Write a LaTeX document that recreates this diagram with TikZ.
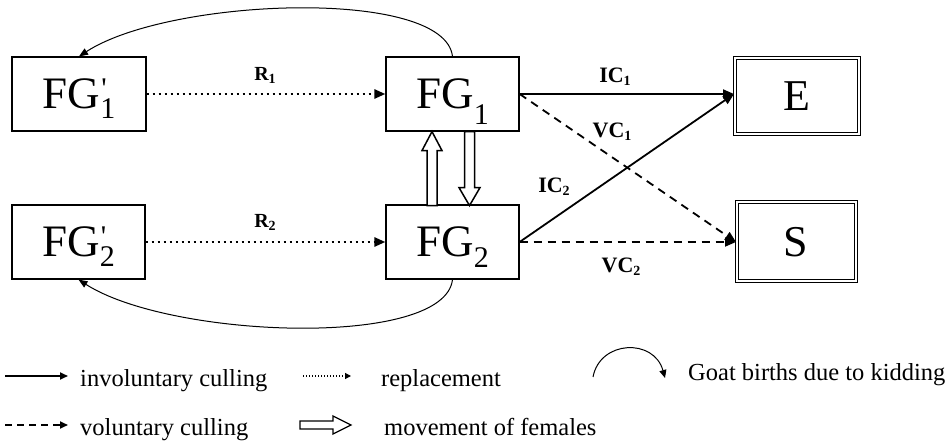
\documentclass[tikz,border=0pt]{standalone}
\usepackage{fontspec}
\setmainfont{Liberation Serif}
\newfontfamily\rawserif{Liberation Serif}
\usetikzlibrary{arrows.meta,calc}

\newcommand{\bigfs}{\fontsize{45}{45}\selectfont}
\newcommand{\subfs}{\fontsize{30}{30}\selectfont}
\newcommand{\FGprime}[1]{\bigfs FG\smash{\rlap{\raisebox{10pt}{\subfs\rawserif\kern1pt'}}\raisebox{-10pt}{\subfs #1}}}
\newcommand{\FGsub}[2]{\bigfs FG\smash{\raisebox{-#2}{\subfs #1}}}
\newcommand{\lab}[3]{{\fontsize{#3}{#3}\selectfont\bfseries #1\raisebox{-3pt}{\fontsize{14}{14}\selectfont #2}}}

\tikzset{
  boxn/.style={draw, line width=1.2pt, inner sep=0pt, minimum width=133pt, minimum height=74pt},
  dboxn/.style={draw, double, double distance=2pt, line width=1pt, inner sep=0pt, font=\fontsize{44}{44}\selectfont},
  conn/.style={line width=1.8pt},
  dotc/.style={line width=2.5pt, dash pattern=on 2.5pt off 3.5pt},
  dashc/.style={line width=1.8pt, dash pattern=on 8pt off 6pt},
  bigtip/.style={-{Triangle[length=11pt,width=9pt]}},
  curvec/.style={line width=1pt, -{Triangle[length=9pt,width=7pt]}},
  hollow/.style={draw, line width=1.5pt, fill=white, line join=miter},
  legtxt/.style={anchor=base west, inner sep=0pt, font=\fontsize{24.5}{24.5}\selectfont},
  labn/.style={inner sep=0pt},
}

\begin{document}
\begin{tikzpicture}[x=1pt,y=-1pt]
\useasboundingbox[fill=white] (0,0) rectangle (950,443);

% boxes
\node[boxn, minimum width=134pt] (FG1p) at (79,94) {\FGprime{1}};
\node[boxn] (FG1) at (452.5,94) {\FGsub{1}{16pt}};
\node[boxn] (FG2p) at (78.5,242) {\FGprime{2}};
\node[boxn] (FG2) at (452.5,242) {\FGsub{2}{11pt}};
\node[dboxn, minimum width=124pt, minimum height=76pt] (E) at (796.5,96.5) {E};
\node[dboxn, minimum width=119pt, minimum height=79pt] (S) at (796,242) {S};

% replacement
\draw[dotc, bigtip] (FG1p.east) -- (FG1.west);
\draw[dotc, bigtip] (FG2p.east) -- (FG2.west);
\node[labn] (R1) at (265,75) {\lab{R}{1}{20}};
\node[labn] (R2) at (265,222) {\lab{R}{2}{20}};

% culling
\draw[conn, bigtip] (FG1.east) -- (FG1.east -| E.west);
\draw[dashc, bigtip] (FG1.east) -- (S.west);
\draw[conn, bigtip] (FG2.east) -- (FG1.east -| E.west);
\draw[dashc, bigtip] (FG2.east) -- (S.west);
\node[labn] (IC1) at (615,77) {\lab{IC}{1}{22}};
\node[labn] (VC1) at (612,132) {\lab{VC}{1}{22}};
\node[labn] (IC2) at (554,187) {\lab{IC}{2}{22}};
\node[labn] (VC2) at (621,267) {\lab{VC}{2}{22}};

% births
\draw[curvec] (FG1.north) .. controls ($(FG1.north)+(-8,-69)$) and ($(FG1p.north)+(91,-59)$) .. (FG1p.north);
\draw[curvec] (FG2.south) .. controls ($(FG2.south)+(-8,69)$) and ($(FG2p.south)+(92,59)$) .. (FG2p.south);

% movement of females
\begin{scope}[shift={(FG1.south)}]
  \draw[hollow] (-25.5,74) -- (-25.5,19) -- (-30.5,19) -- (-20.5,0) -- (-10.5,19) -- (-15.5,19) -- (-15.5,74) -- cycle;
  \draw[hollow] (12,0) -- (12,56) -- (6.5,56) -- (17,74) -- (27.5,56) -- (22,56) -- (22,0) -- cycle;
\end{scope}

% legend
\coordinate (la1) at (5,376);  \coordinate (lb1) at (68,376);
\coordinate (la2) at (5,425);  \coordinate (lb2) at (68,425);
\coordinate (lc1) at (303,376); \coordinate (ld1) at (351,376);
\coordinate (lg1) at (593,377); \coordinate (lg2) at (665,378);
\draw[line width=1.8pt, -{Triangle[length=8pt,width=7pt]}] (la1) -- (lb1);
\draw[line width=1.8pt, dash pattern=on 7pt off 5pt, -{Triangle[length=8pt,width=7pt]}] (la2) -- (lb2);
\draw[line width=1.2pt, dash pattern=on 1.2pt off 1.8pt, -{Triangle[length=6pt,width=6pt]}] (lc1) -- (ld1);
\draw[line width=1pt, -{Triangle[length=8pt,width=7pt]}] (lg1) .. controls (600,340) and (654,338) .. (lg2);
\draw[hollow, line width=1.3pt] (300,421) -- (333,421) -- (333,416) -- (351,425) -- (333,434) -- (333,429) -- (300,429) -- cycle;

\node[legtxt] (t1) at (80,386) {involuntary culling};
\node[legtxt] (t2) at (80,435) {voluntary culling};
\node[legtxt] (t3) at (381,386) {replacement};
\node[legtxt] (t4) at (384,435) {movement of females};
\node[legtxt] (t5) at (688,380) {Goat births due to kidding};
\end{tikzpicture}
\end{document}
